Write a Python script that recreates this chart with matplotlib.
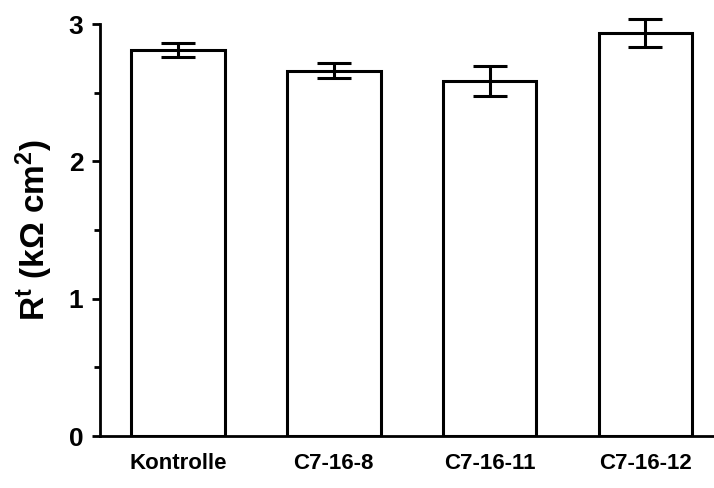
import numpy as np
import matplotlib.pyplot as plt
from matplotlib.ticker import MultipleLocator

plt.rcParams['font.family'] = ['Liberation Sans', 'DejaVu Sans']
plt.rcParams['font.weight'] = 'bold'
plt.rcParams['mathtext.fontset'] = 'custom'
plt.rcParams['mathtext.rm'] = 'Liberation Sans:bold'
plt.rcParams['mathtext.it'] = 'Liberation Sans:bold'
plt.rcParams['mathtext.bf'] = 'Liberation Sans:bold'

groups = ['Kontrolle', 'C7-16-8', 'C7-16-11', 'C7-16-12']
means = [2.81, 2.66, 2.585, 2.935]
errors = [0.05, 0.055, 0.11, 0.105]

fig = plt.figure(figsize=(7.14, 4.88), dpi=100)
ax = fig.add_axes([100 / 714, 52 / 488, 614 / 714, 412 / 488])

x = np.arange(len(groups))
ax.bar(x, means, width=0.6, color='white', edgecolor='black', linewidth=2.2, zorder=2)
eb = ax.errorbar(x, means, yerr=errors, fmt='none', ecolor='black', elinewidth=2.2,
                 capsize=12, capthick=2.2, zorder=3)
for artist in eb.lines[1] + eb.lines[2]:
    artist.set_clip_on(False)

ax.set_xlim(-0.5, 3.44)
ax.set_ylim(0, 3)
ax.set_yticks([0, 1, 2, 3])
ax.yaxis.set_minor_locator(MultipleLocator(0.5))
ax.set_xticks(x)
ax.set_xticklabels(groups, fontsize=16, fontweight='bold')
ax.tick_params(axis='x', length=0, pad=12)
ax.tick_params(axis='y', which='major', length=6, width=2, labelsize=19, pad=6)
ax.tick_params(axis='y', which='minor', length=4, width=2)
for lab in ax.get_yticklabels():
    lab.set_fontweight('bold')

ax.spines['top'].set_visible(False)
ax.spines['right'].set_visible(False)
ax.spines['left'].set_linewidth(2)
ax.spines['bottom'].set_linewidth(2)

ax.set_ylabel(r'R$^{t}$ (k$\Omega$ cm$^{2}$)', fontsize=24, fontweight='bold', labelpad=10)

fig.savefig('out.png', dpi=100)
